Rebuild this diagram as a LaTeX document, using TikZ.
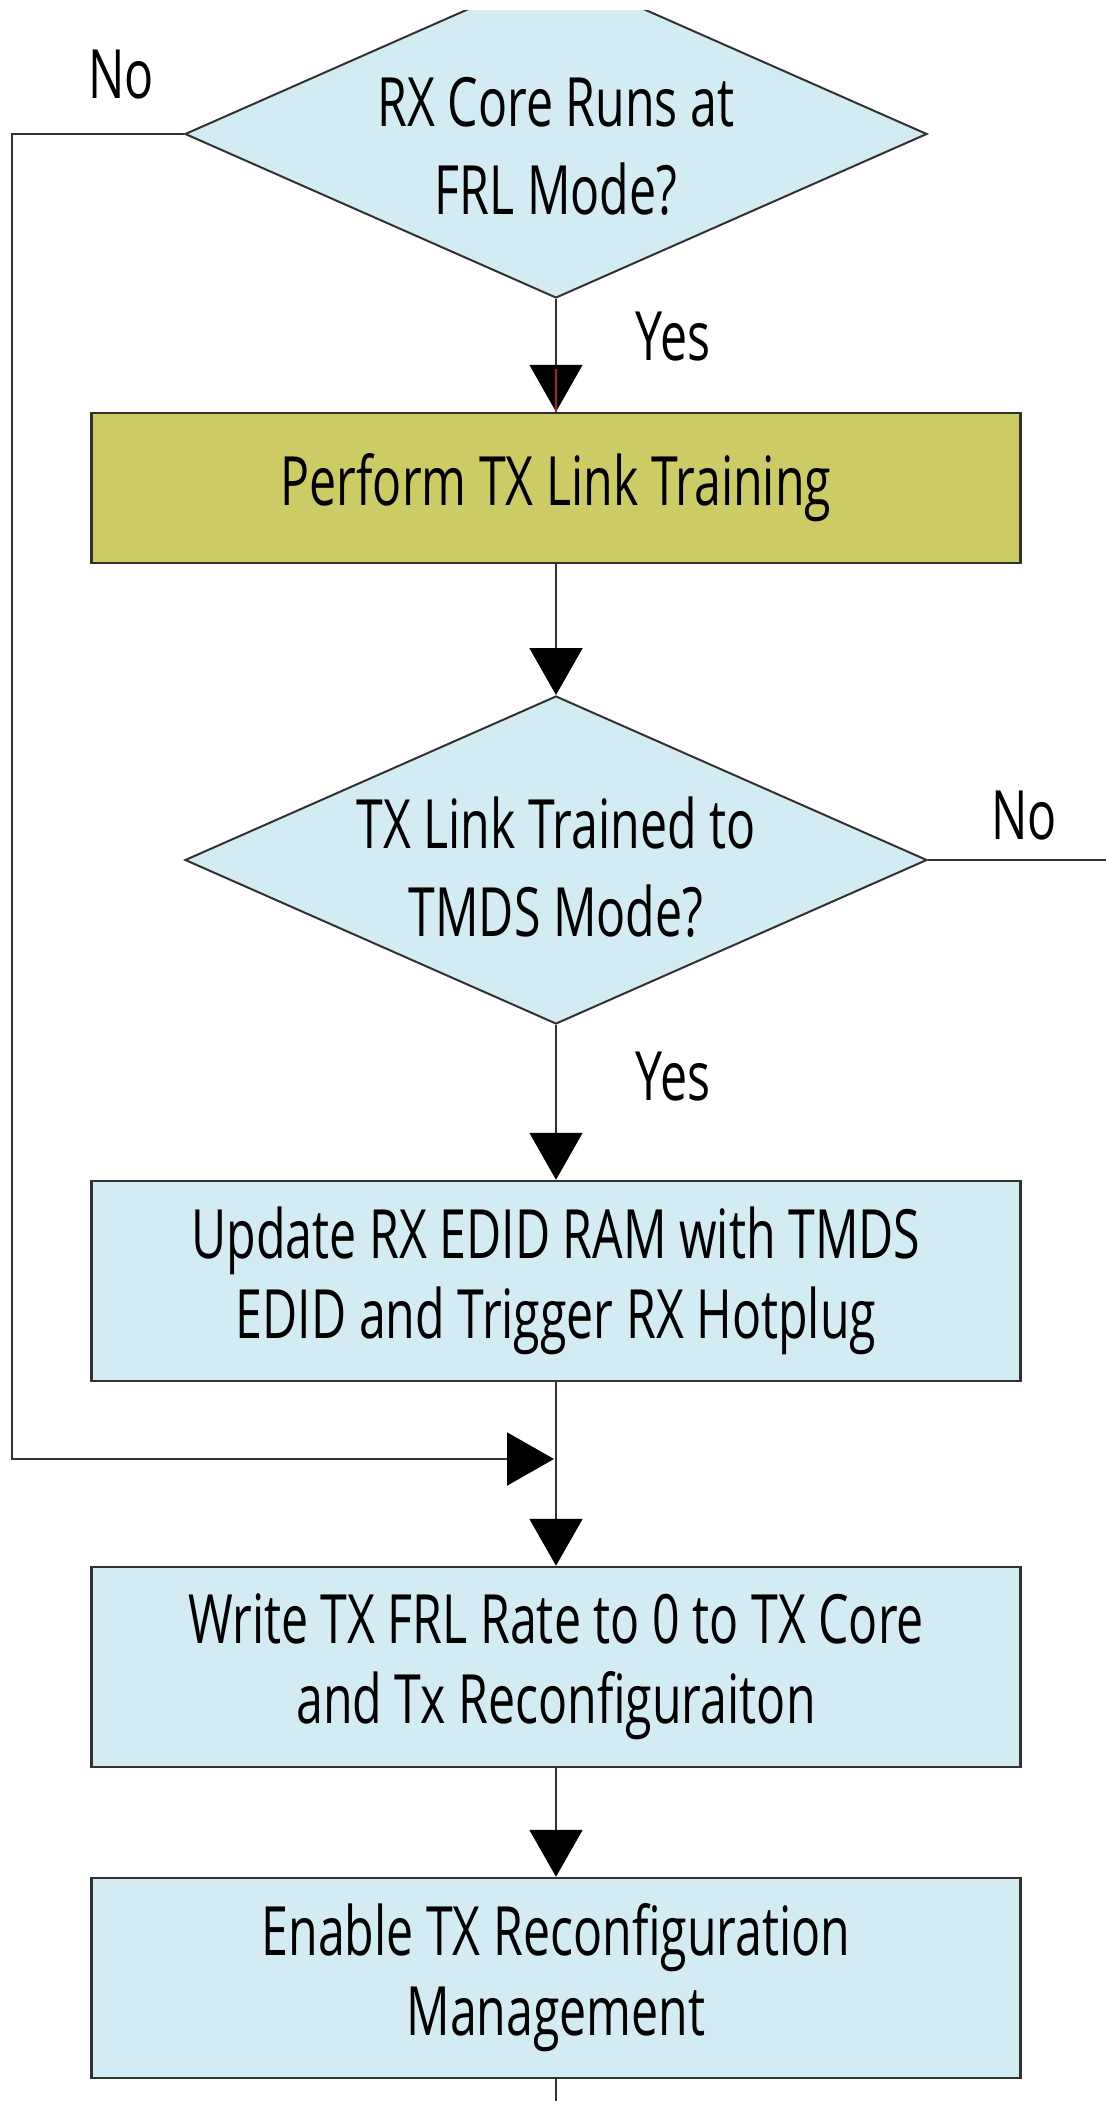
\documentclass[tikz,border=0pt]{standalone}
\usepackage{fontspec}
\setmainfont{Open Sans}[FakeStretch=0.71]
\usetikzlibrary{shapes.geometric,arrows.meta}
\definecolor{boxblue}{RGB}{211,236,243}
\definecolor{boxolive}{RGB}{205,203,102}
\definecolor{edgegray}{RGB}{50,50,50}
\definecolor{tipred}{RGB}{180,30,50}

\begin{document}
\begin{tikzpicture}[x=1pt,y=1pt,
  decision/.style={diamond, draw=edgegray, line width=2pt, fill=boxblue,
    minimum width=742pt, minimum height=328pt, inner sep=0pt, aspect=2.26},
  qtext/.style={align=center, font=\fontsize{68}{88}\selectfont, inner sep=0pt},
  stepbox/.style={rectangle, draw=edgegray, line width=2.5pt, fill=boxblue,
    minimum width=929pt, minimum height=200pt, align=center, inner sep=0pt,
    font=\fontsize{68}{80}\selectfont},
  flow/.style={draw=edgegray, line width=2pt,
    -{Triangle[length=47pt,width=53pt,color=black]}},
  wire/.style={draw=edgegray, line width=2pt},
  answer/.style={font=\fontsize{68}{80}\selectfont, inner sep=0pt}
]
\useasboundingbox (0,0) rectangle (1106,-2101);
\clip (0,-11) rectangle (1106,-2101);

% decisions
\node[decision] (q1) at (556,-134) {};
\node[qtext] (q1t) at ([yshift=-12pt]q1.center) {RX Core Runs at\\FRL Mode?};
\node[decision] (q2) at (556,-860) {};
\node[qtext] (q2t) at ([yshift=-7pt]q2.center) {TX Link Trained to\\TMDS Mode?};

% process steps
\node[stepbox, fill=boxolive, minimum height=150pt] (p1) at (556,-488) {Perform TX Link Training};
\node[stepbox] (p2) at (556,-1281) {Update RX EDID RAM with TMDS\\EDID and Trigger RX Hotplug};
\node[stepbox] (p3) at (556,-1667) {Write TX FRL Rate to 0 to TX Core\\and Tx Reconfiguraiton};
\node[stepbox] (p4) at (556,-1978) {Enable TX Reconfiguration\\Management};

% branch labels
\node[answer] (no1) at (121,-75) {No};
\node[answer] (yes1) at (673,-337) {Yes};
\node[answer] (no2) at (1024,-816) {No};
\node[answer] (yes2) at (673,-1077) {Yes};

% helper points for the bypass and the open ends
\coordinate (byTop) at (12,-134);
\coordinate (byBot) at (12,-1459);
\coordinate (merge) at (554,-1459);
\coordinate (rightEnd) at (1106,-860);
\coordinate (bottomEnd) at (556,-2101);

% connectors
\draw[flow] (q1.south) -- (p1.north);
\draw[tipred, line width=1.3pt] ([yshift=43pt]p1.north) -- (p1.north);
\draw[flow] (p1.south) -- (q2.north);
\draw[flow] (q2.south) -- (p2.north);
\draw[wire] (q2.east) -- (rightEnd);
\draw[flow] (p2.south) -- (p3.north);
\draw[flow] (q1.west) -- (byTop) -- (byBot) -- (merge);
\draw[flow] (p3.south) -- (p4.north);
\draw[wire] (p4.south) -- (bottomEnd);
\end{tikzpicture}
\end{document}
